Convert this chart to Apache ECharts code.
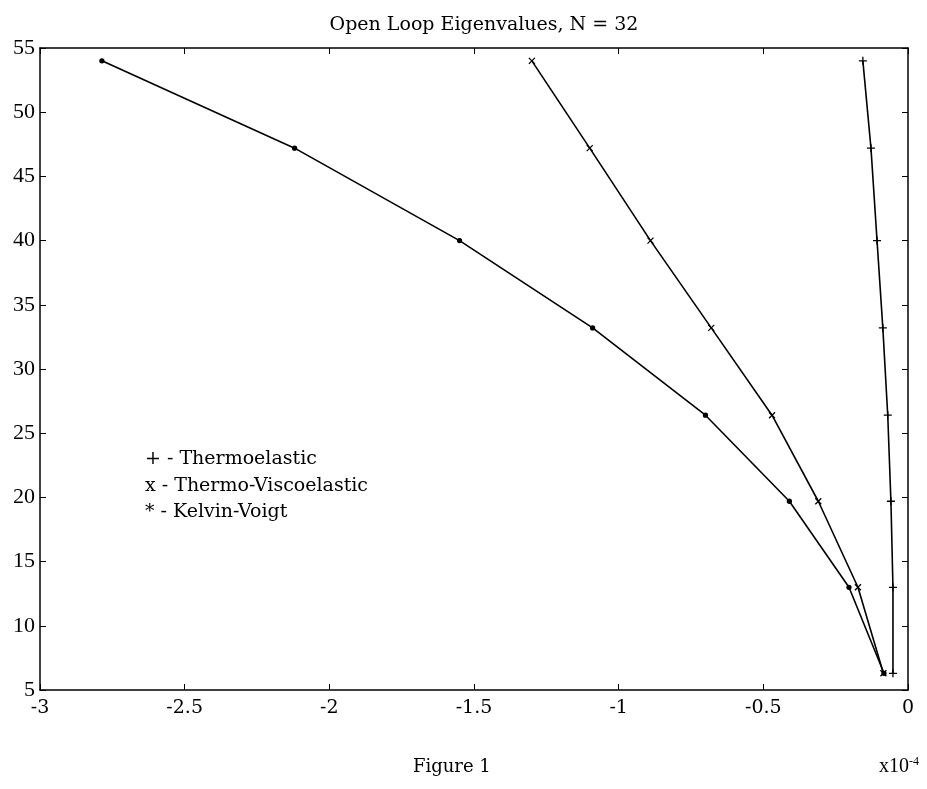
<!DOCTYPE html>
<html>
<head>
<meta charset="utf-8">
<script src="https://cdn.jsdelivr.net/npm/echarts@6/dist/echarts.min.js"></script>
<style>
  html, body { margin: 0; padding: 0; background: #fff; }
  #main { width: 927px; height: 789px; }
</style>
</head>
<body>
<div id="main"></div>
<script>
// imaginary part (frequency) shared by all three curves
const imagPart = [54.0, 47.2, 40.0, 33.2, 26.4, 19.7, 13.0, 6.3]
// real parts, in units of 1e-4
const thermoElastic = [-0.156, -0.128, -0.107, -0.087, -0.070, -0.059, -0.052, -0.052]
const thermoVisco = [-1.30, -1.10, -0.89, -0.68, -0.47, -0.31, -0.173, -0.085]
const kelvinVoigt = [-2.786, -2.12, -1.55, -1.09, -0.70, -0.41, -0.204, -0.083]

const yTicks = [5, 10, 15, 20, 25, 30, 35, 40, 45, 50, 55]
const xTicks = [-3, -2.5, -2, -1.5, -1, -0.5, 0]

const SERIF = '"Liberation Serif", serif'
const WIDE = '"DejaVu Serif", serif'

function pairs(xs) {
  return xs.map((x, i) => [x, imagPart[i]])
}

const plusPath = 'path://M0,5L10,5M5,0L5,10'
const crossPath = 'path://M0,0L10,10M10,0L0,10'

function series(name, xs, symbol, size) {
  return {
    name: name,
    type: 'line',
    data: pairs(xs),
    symbol: symbol,
    symbolSize: size,
    showAllSymbol: true,
    lineStyle: { color: '#000', width: 1.6 },
    itemStyle: { color: '#000', borderColor: '#000', borderWidth: 1.3 },
    animation: false
  }
}

const chart = echarts.init(document.getElementById('main'))

const option = {
  backgroundColor: '#fff',
  animation: false,
  title: {
    text: 'Open Loop Eigenvalues, N = 32',
    left: 479,
    top: 11,
    textAlign: 'center',
    textStyle: { fontFamily: WIDE, fontWeight: 'normal', fontSize: 19, color: '#000' }
  },
  grid: { left: 40, right: 19, top: 48, bottom: 99 },
  xAxis: [
    {
      type: 'value', min: -3, max: 0, interval: 0.5,
      axisLine: { show: true, onZero: false, lineStyle: { color: '#000', width: 1.5 } },
      axisTick: { show: true, inside: true, length: 6, lineStyle: { color: '#000' } },
      axisLabel: {
        margin: 9, color: '#000', fontFamily: WIDE, fontSize: 19,
        formatter: v => (xTicks.includes(v) ? String(v) : '')
      },
      splitLine: { show: false }
    },
    {
      type: 'value', position: 'top', min: -3, max: 0, interval: 0.5,
      axisLine: { show: true, onZero: false, lineStyle: { color: '#000', width: 1.5 } },
      axisTick: { show: true, inside: true, length: 6, lineStyle: { color: '#000' } },
      axisLabel: { show: false },
      splitLine: { show: false }
    }
  ],
  yAxis: [
    {
      type: 'value', min: 5, max: 55, interval: 5,
      axisLine: { show: true, onZero: false, lineStyle: { color: '#000', width: 1.5 } },
      axisTick: { show: true, inside: true, length: 6, lineStyle: { color: '#000' } },
      axisLabel: {
        margin: 5, color: '#000', fontFamily: SERIF, fontSize: 22,
        formatter: v => (yTicks.includes(v) ? String(v) : '')
      },
      splitLine: { show: false }
    },
    {
      type: 'value', position: 'right', min: 5, max: 55, interval: 5,
      axisLine: { show: true, onZero: false, lineStyle: { color: '#000', width: 1.5 } },
      axisTick: { show: true, inside: true, length: 6, lineStyle: { color: '#000' } },
      axisLabel: { show: false },
      splitLine: { show: false }
    }
  ],
  graphic: [
    {
      type: 'text', left: 145, top: 450,
      style: { text: '+ - Thermoelastic', font: '19px ' + WIDE, fill: '#000' }
    },
    {
      type: 'text', left: 145, top: 477,
      style: { text: 'x - Thermo-Viscoelastic', font: '19px ' + WIDE, fill: '#000' }
    },
    {
      type: 'text', left: 145, top: 503,
      style: { text: '* - Kelvin-Voigt', font: '19px ' + WIDE, fill: '#000' }
    },
    {
      type: 'text', left: 413, top: 758,
      style: { text: 'Figure 1', font: '18px ' + WIDE, fill: '#000' }
    },
    {
      type: 'text', left: 879, top: 756,
      style: {
        text: 'x10{sup|-4}',
        font: '20px ' + SERIF,
        fill: '#000',
        rich: { sup: { fontSize: 12, fontFamily: SERIF, verticalAlign: 'top', padding: [0, 0, 9, 0] } }
      }
    }
  ],
  series: [
    series('Thermoelastic', thermoElastic, plusPath, 8),
    series('Thermo-Viscoelastic', thermoVisco, crossPath, 6),
    series('Kelvin-Voigt', kelvinVoigt, 'circle', 4)
  ]
}

chart.setOption(option)
</script>
</body>
</html>
